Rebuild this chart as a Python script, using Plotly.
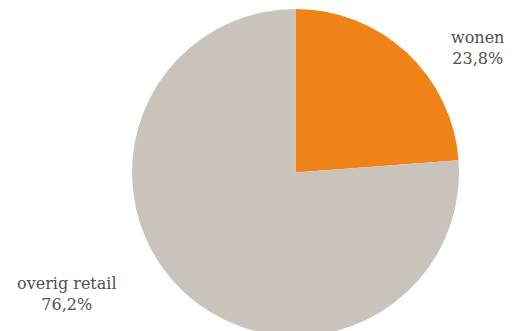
import plotly.graph_objects as go

labels = ["wonen", "overig retail"]
values = [23.8, 76.2]
colors = ["#EF8318", "#C9C3BC"]
label_pos = [(477, 48), (67, 294)]  # pixel centres of outside labels

W, H = 517, 345

fig = go.Figure(go.Pie(
    labels=labels,
    values=values,
    sort=False,
    direction="clockwise",
    rotation=0,
    marker=dict(colors=colors, line=dict(width=0)),
    textinfo="none",
    hoverinfo="label+percent",
    showlegend=False,
    domain=dict(x=[132 / W, 459 / W], y=[(H - 336) / H, (H - 9) / H]),
))

annotations = []
for lab, val, (px, py) in zip(labels, values, label_pos):
    txt = f"{lab}<br>{val:.1f}%".replace(".", ",")
    annotations.append(dict(
        text=txt, x=px / W, y=1 - py / H, xref="paper", yref="paper",
        xanchor="center", yanchor="middle", showarrow=False, align="center",
        font=dict(family="DejaVu Serif", size=16, color="#505050"),
    ))

fig.update_layout(
    width=W, height=H,
    margin=dict(l=0, r=0, t=0, b=0),
    paper_bgcolor="white", plot_bgcolor="white",
    annotations=annotations,
)

fig.write_html("out.html")
